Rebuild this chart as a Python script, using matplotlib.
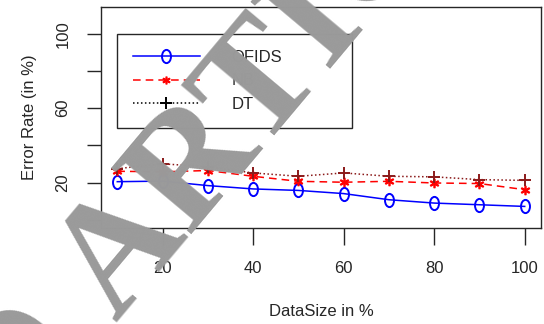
import matplotlib
matplotlib.use('Agg')
import matplotlib.pyplot as plt
from matplotlib.path import Path
from matplotlib.lines import Line2D
from matplotlib.transforms import Affine2D

# error rate (%) against the share of the data set used for training
data_size = [10, 20, 30, 40, 50, 60, 70, 80, 90, 100]
ofids_err = [20.5, 20.8, 18.4, 16.6, 15.8, 14.1, 10.8, 9.0, 8.1, 7.2]
nb_err = [26.1, 25.8, 26.5, 23.4, 20.7, 20.2, 20.7, 19.8, 19.5, 16.2]
dt_err = [27.5, 30.1, 28.5, 25.2, 23.4, 25.2, 23.4, 23.1, 21.6, 21.2]

series_names = ['OFIDS', 'NB', 'DT']
x_ticks = [20, 40, 60, 80, 100]
y_ticks = [0, 20, 40, 60, 80, 100]
y_tick_labels = ['', '20', '', '60', '', '100']

plt.rcParams['font.family'] = ['Liberation Sans', 'DejaVu Sans']
ink = '#262626'
dark_red = '#8b1a1a'

# tall letter-o shaped marker, like R's pch = "o"
o_mark = Path.unit_circle().transformed(Affine2D().scale(0.68, 1.0))

fig = plt.figure(figsize=(5.44, 3.24), dpi=100)
ax = fig.add_axes([101 / 544, 1 - 228 / 324, 440 / 544, 221 / 324])

ax.plot(data_size, ofids_err, color='blue', lw=1.1, marker=o_mark,
        ms=9.5, mfc='none', mec='blue', mew=1.4)
ax.plot(data_size, nb_err, color='red', lw=1.1, dashes=(5, 3.3),
        marker='$*$', ms=6, mec='red', mfc='red')
ax.plot(data_size, dt_err, color=dark_red, lw=1.1, dashes=(1, 1.6),
        marker='+', ms=8, mew=1.4)

# R-style 4% padding around 10..100 and 0..110
ax.set_xlim(6.4, 103.6)
ax.set_ylim(-4.4, 114.4)

ax.set_xticks(x_ticks)
ax.set_xticklabels([str(t) for t in x_ticks])
ax.set_yticks(y_ticks)
ax.set_yticklabels(y_tick_labels, rotation=90, va='center')
ax.tick_params(axis='x', length=12, width=1, pad=12, labelsize=12,
               colors=ink, labelcolor=ink)
ax.tick_params(axis='y', length=10, width=1, pad=12, labelsize=12,
               colors=ink, labelcolor=ink)
for sp in ax.spines.values():
    sp.set_color(ink)
    sp.set_linewidth(1.0)

ax.set_xlabel('DataSize in %', fontsize=12, color=ink, labelpad=20)
ax.set_ylabel('Error Rate (in %)', fontsize=12, color=ink, labelpad=13)

handles = [
    Line2D([], [], color='blue', lw=1.1, marker=o_mark, ms=9.5,
           mfc='none', mec='blue', mew=1.4),
    Line2D([], [], color='red', lw=1.1, dashes=(5, 3.3), marker='$*$',
           ms=5, mec='red', mfc='red'),
    Line2D([], [], color='black', lw=1.1, dashes=(1, 1.6), marker='+',
           ms=8, mew=1.4),
]
leg = ax.legend(handles, series_names, loc='upper left',
                bbox_to_anchor=(16 / 440, 1 - 27 / 221, 235 / 440, 0),
                mode='expand', fontsize=12, handlelength=4.0,
                handletextpad=1.9, labelspacing=0.52, borderpad=0.95,
                borderaxespad=0, fancybox=False, framealpha=1)
leg.get_frame().set_edgecolor(ink)
leg.get_frame().set_linewidth(1.0)
for t in leg.get_texts():
    t.set_color(ink)

# diagonal stamp across the page
stamp = dict(fontsize=114, color='#9a9a9a', family='Liberation Serif',
             weight='bold', rotation=50, rotation_mode='anchor',
             va='baseline', zorder=10)
anchor = (116 / 544, 1 - 323 / 324)
fig.text(*anchor, 'ARTICLE', ha='left', **stamp)
fig.text(*anchor, 'RETRACTED ', ha='right', **stamp)

fig.savefig('out.png', dpi=100)
